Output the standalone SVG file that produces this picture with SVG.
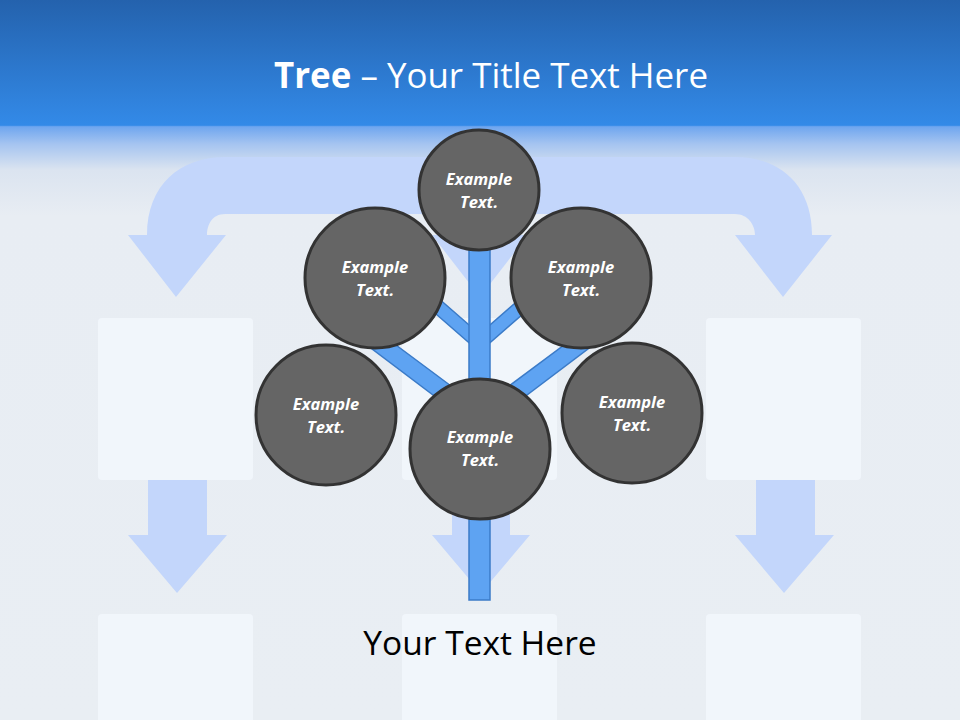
<svg xmlns="http://www.w3.org/2000/svg" width="960" height="720" viewBox="0 0 960 720">
<defs>
<linearGradient id="bg" x1="0" y1="0" x2="0" y2="1">
<stop offset="0" stop-color="#2462ad"/>
<stop offset="0.174" stop-color="#338ae8"/>
<stop offset="0.176" stop-color="#6fa6ef"/>
<stop offset="0.2" stop-color="#a5c4f0"/>
<stop offset="0.236" stop-color="#dbe4f0"/>
<stop offset="0.3" stop-color="#e8edf3"/>
<stop offset="1" stop-color="#e9eef3"/>
</linearGradient>
<style>
.ghost{fill:#c3d6fb}
.box{fill:#f1f6fb}
.node circle{fill:#656565;stroke:#333333;stroke-width:3}
.node text{font-family:"Open Sans","Liberation Sans",sans-serif;font-size:16.5px;font-weight:bold;font-style:italic;fill:#ffffff;text-anchor:middle}
.br{fill:#5ea3f2;stroke:#3b7bc8;stroke-width:1.5}
</style>
</defs>
<rect width="960" height="720" fill="url(#bg)"/>
<g id="background-shapes">
<path class="ghost" d="M147,235 C147,185 180,157 225,157 L735,157 C780,157 812,185 812,235 L832,235 L783,297 L735,235 L755,235 C755,225 748,214 735,214 L225,214 C212,214 207,225 207,235 L226,235 L176,297 L128,235 Z"/>
<path class="ghost" d="M432,235 L528,235 L480,297 Z"/>
<rect class="box" x="98" y="318" width="155" height="162" rx="4"/>
<rect class="box" x="402" y="318" width="155" height="162" rx="4"/>
<rect class="box" x="706" y="318" width="155" height="162" rx="4"/>
<path class="ghost" d="M148,480 L207,480 L207,535 L227,535 L177,593 L128,535 L148,535 Z"/>
<path class="ghost" d="M452,480 L510,480 L510,535 L530,535 L481,593 L432,535 L452,535 Z"/>
<path class="ghost" d="M756,480 L815,480 L815,535 L834,535 L784,593 L735,535 L756,535 Z"/>
<rect class="box" x="98" y="614" width="155" height="110" rx="4"/>
<rect class="box" x="402" y="614" width="155" height="110" rx="4"/>
<rect class="box" x="706" y="614" width="155" height="110" rx="4"/>
</g>
<text x="491" y="88" font-family="'Open Sans','Liberation Sans',sans-serif" font-size="35" fill="#ffffff" text-anchor="middle" textLength="434" lengthAdjust="spacingAndGlyphs"><tspan font-weight="bold">Tree</tspan> – Your Title Text Here</text>
<g id="connectors">
<polygon class="br" points="475,348 405,287 414,277 484,338"/>
<polygon class="br" points="484,348 554,287 545,277 475,338"/>
<polygon class="br" points="474,426 355,336 365,322 486,412"/>
<polygon class="br" points="486,426 605,336 595,322 474,412"/>
<rect class="br" x="469" y="245" width="21" height="355"/>
</g>
<g id="node-top" class="node"><circle cx="479" cy="190" r="60"/><text x="479" y="185">Example</text><text x="479" y="208">Text.</text></g>
<g id="node-upper-left" class="node"><circle cx="375" cy="278" r="70"/><text x="375" y="273">Example</text><text x="375" y="296">Text.</text></g>
<g id="node-upper-right" class="node"><circle cx="581" cy="278" r="70"/><text x="581" y="273">Example</text><text x="581" y="296">Text.</text></g>
<g id="node-left" class="node"><circle cx="326" cy="415" r="70"/><text x="326" y="410">Example</text><text x="326" y="433">Text.</text></g>
<g id="node-right" class="node"><circle cx="632" cy="413" r="70"/><text x="632" y="408">Example</text><text x="632" y="431">Text.</text></g>
<g id="node-center" class="node"><circle cx="480" cy="449" r="70"/><text x="480" y="443">Example</text><text x="480" y="466">Text.</text></g>
<text x="480" y="655" font-family="'Open Sans','Liberation Sans',sans-serif" font-size="33.5" fill="#000000" text-anchor="middle">Your Text Here</text>
</svg>
